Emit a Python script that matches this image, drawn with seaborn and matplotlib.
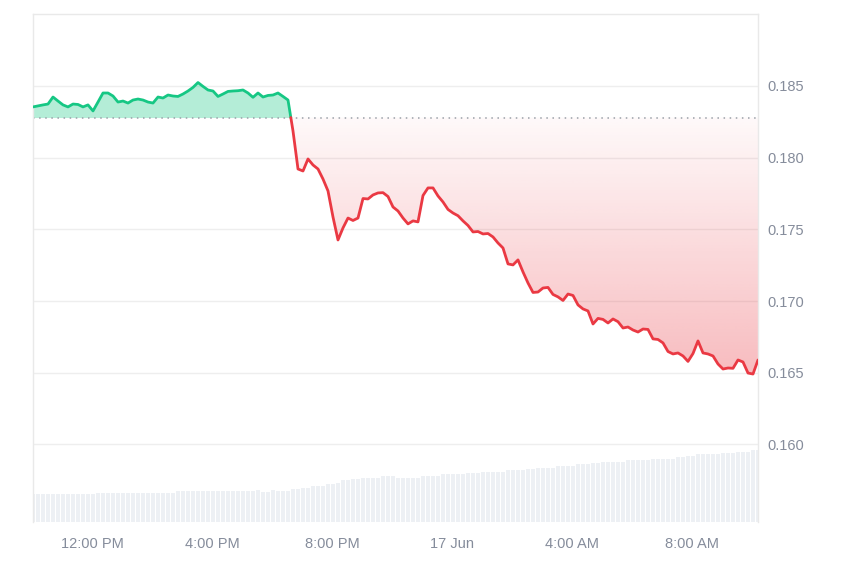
import numpy as np
import pandas as pd
import matplotlib
matplotlib.use("Agg")
import matplotlib.pyplot as plt
import matplotlib.dates as mdates
import seaborn as sns

# ---------------- data ----------------
start_time = "2024-06-16 10:02"
step = "10min"
baseline = 0.1828

price = [
    0.18354, 0.18361, 0.18368, 0.18374, 0.18423, 0.18395, 0.18368, 0.18354, 0.18374, 0.18371,
    0.18354, 0.18368, 0.18326, 0.18388, 0.18451, 0.18451, 0.18430, 0.18388, 0.18395, 0.18381,
    0.18402, 0.18409, 0.18402, 0.18388, 0.18381, 0.18423, 0.18416, 0.18437, 0.18430, 0.18427,
    0.18444, 0.18465, 0.18490, 0.18524, 0.18497, 0.18472, 0.18465, 0.18427, 0.18444, 0.18462,
    0.18465, 0.18467, 0.18472, 0.18451, 0.18421, 0.18451, 0.18423, 0.18434, 0.18437, 0.18451,
    0.18427, 0.18402, 0.18186, 0.17921, 0.17907, 0.17991, 0.17949, 0.17921, 0.17851, 0.17768,
    0.17586, 0.17426, 0.17510, 0.17579, 0.17562, 0.17579, 0.17715, 0.17712, 0.17740, 0.17754,
    0.17756, 0.17729, 0.17656, 0.17628, 0.17579, 0.17538, 0.17559, 0.17552, 0.17736, 0.17789,
    0.17789, 0.17733, 0.17691, 0.17639, 0.17614, 0.17595, 0.17559, 0.17527, 0.17482, 0.17485,
    0.17468, 0.17471, 0.17447, 0.17405, 0.17370, 0.17259, 0.17252, 0.17287, 0.17203, 0.17126,
    0.17060, 0.17063, 0.17091, 0.17095, 0.17046, 0.17029, 0.17004, 0.17049, 0.17039, 0.16973,
    0.16945, 0.16931, 0.16840, 0.16879, 0.16872, 0.16847, 0.16875, 0.16856, 0.16812, 0.16819,
    0.16798, 0.16784, 0.16805, 0.16802, 0.16736, 0.16732, 0.16708, 0.16648, 0.16631, 0.16638,
    0.16617, 0.16579, 0.16634, 0.16722, 0.16638, 0.16631, 0.16617, 0.16561, 0.16526, 0.16533,
    0.16531, 0.16589, 0.16575, 0.16498, 0.16491, 0.16589,
]

volume = [
    13.9, 13.9, 13.9, 13.9, 13.9, 13.9, 13.9, 13.9, 13.9, 13.9, 13.9, 13.9, 13.9,
    14.7, 14.7, 14.7, 14.7, 14.7, 14.7, 14.7, 14.7, 14.7, 14.7, 14.7, 14.7, 14.7, 14.7, 14.7, 14.7,
    15.4, 15.4, 15.4, 15.4, 15.4, 15.4, 15.4, 15.4, 15.4, 15.4, 15.4, 15.4, 15.4, 15.4, 15.4, 15.4,
    16.0, 15.2, 15.2, 16.0, 15.4, 15.4, 15.4, 16.4, 16.4, 17.2, 17.2, 18.0, 18.0, 18.0,
    18.9, 18.9, 19.7, 20.9, 20.9, 21.4, 21.4, 22.2, 22.2, 22.2, 22.2, 23.0, 23.0, 23.0,
    22.2, 22.2, 22.2, 22.2, 22.2, 23.0, 23.0, 23.0, 23.0, 23.9, 23.9, 23.9, 23.9, 23.9,
    24.4, 24.4, 24.4, 25.2, 25.2, 25.2, 25.2, 25.2, 25.9, 25.9, 25.9, 25.9, 26.7, 26.7,
    27.2, 27.2, 27.2, 27.2, 28.0, 28.0, 28.0, 28.0, 28.9, 28.9, 28.9, 29.4, 29.4,
    30.2, 30.2, 30.2, 30.2, 30.2, 30.9, 30.9, 30.9, 30.9, 30.9, 31.7, 31.7, 31.7, 31.7, 31.7,
    32.5, 32.5, 33.0, 33.0, 33.9, 33.9, 33.9, 33.9, 33.9, 34.4, 34.4, 34.4, 35.2, 35.2, 35.2,
    35.9, 35.9,
]

ytick_values = [0.160, 0.165, 0.170, 0.175, 0.180, 0.185]
ytick_labels = ["0.160", "0.165", "0.170", "0.175", "0.180", "0.185"]
xtick_times = ["2024-06-16 12:00", "2024-06-16 16:00", "2024-06-16 20:00",
               "2024-06-17 00:00", "2024-06-17 04:00", "2024-06-17 08:00"]
xtick_labels = ["12:00 PM", "4:00 PM", "8:00 PM", "17 Jun", "4:00 AM", "8:00 AM"]

# ---------------- styling ----------------
sns.set_theme(style="white")
plt.rcParams["font.family"] = ["Liberation Sans", "DejaVu Sans"]

GREEN = "#16c784"
RED = "#ea3943"
TEXT = "#858c9b"
GRID = "#eeeeee"

times = pd.date_range(start_time, periods=len(price), freq=step)
p = np.array(price)
df = pd.DataFrame({"time": times, "price": p, "volume": volume})

# split at the crossing of the baseline
i = int(np.where((p[:-1] >= baseline) & (p[1:] < baseline))[0][0])
frac = (p[i] - baseline) / (p[i] - p[i + 1])
t_cross = times[i] + frac * (times[i + 1] - times[i])
green = pd.concat([df.iloc[: i + 1][["time", "price"]],
                   pd.DataFrame({"time": [t_cross], "price": [baseline]})], ignore_index=True)
red = pd.concat([pd.DataFrame({"time": [t_cross], "price": [baseline]}),
                 df.iloc[i + 1:][["time", "price"]]], ignore_index=True)

fig = plt.figure(figsize=(8.5, 5.67), dpi=100)
ax = fig.add_axes([33 / 850, 45 / 567, 725 / 850, 508 / 567])
ax2 = ax.twinx()
ax.set_zorder(2)
ax2.set_zorder(1)
ax.patch.set_visible(False)

# volume bars
ax2.bar(df["time"], df["volume"], width=pd.Timedelta(minutes=9.2),
        color="#edf0f4", linewidth=0, align="center")
ax2.set_ylim(0, 254)
ax2.set_yticks([])
for s in ax2.spines.values():
    s.set_visible(False)

# fills
ax.fill_between(green["time"], green["price"], baseline, color=GREEN, alpha=0.32,
                linewidth=0, zorder=1)
poly = ax.fill_between(red["time"], red["price"], baseline, color="none",
                       linewidth=0, zorder=1)
x0 = mdates.date2num(red["time"].iloc[0])
x1 = mdates.date2num(red["time"].iloc[-1])
pmin = red["price"].min()
n = 256
alpha = np.linspace(0.34, 0.03, n)  # bottom -> top
rgba = np.zeros((n, 1, 4))
rgba[..., 0] = 234 / 255
rgba[..., 1] = 57 / 255
rgba[..., 2] = 67 / 255
rgba[:, 0, 3] = alpha
im = ax.imshow(rgba, extent=[x0, x1, pmin, baseline], origin="lower",
               aspect="auto", zorder=1, interpolation="bilinear")
im.set_clip_path(poly.get_paths()[0], transform=ax.transData)

# baseline
ax.axhline(baseline, color="#9aa0a8", linestyle=(0, (1, 3)), linewidth=1.1, zorder=2)

# lines
sns.lineplot(data=green, x="time", y="price", color=GREEN, linewidth=2.0, ax=ax,
             sort=False, zorder=3)
sns.lineplot(data=red, x="time", y="price", color=RED, linewidth=2.0, ax=ax,
             sort=False, zorder=3)

# axes
ax.set_xlim(times[0], times[-1])
ax.set_ylim(0.15459, 0.19002)
ax.set_xlabel("")
ax.set_ylabel("")
ax.yaxis.tick_right()
ax.set_yticks(ytick_values)
ax.set_yticklabels(ytick_labels)
ax.set_xticks(pd.to_datetime(xtick_times))
ax.set_xticklabels(xtick_labels)
ax.tick_params(axis="y", length=0, pad=7, labelsize=10.5, labelcolor=TEXT,
               left=False, labelleft=False, right=False, labelright=True)
ax.tick_params(axis="x", length=0, pad=11, labelsize=10.5, labelcolor=TEXT)
ax.yaxis.grid(True, color=GRID, linewidth=1)
ax.xaxis.grid(False)
for name, s in ax.spines.items():
    if name == "bottom":
        s.set_visible(False)
    else:
        s.set_color("#e9e9e9")
        s.set_linewidth(1)

fig.savefig("out.png", dpi=100)
